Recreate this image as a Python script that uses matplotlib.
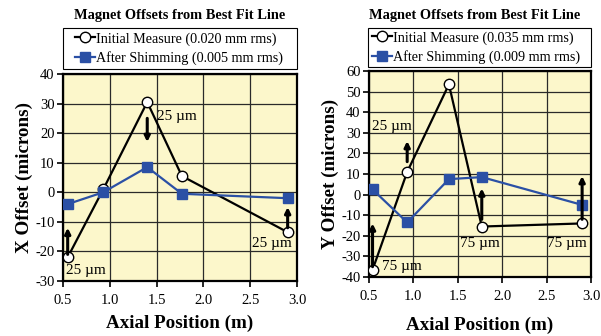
import numpy as np
import matplotlib.pyplot as plt
import matplotlib.patches as patches

plt.rcParams['font.family'] = ['Liberation Serif', 'DejaVu Serif']
plt.rcParams['axes.unicode_minus'] = False

# axial positions (m)
pos_x = [0.55, 0.93, 1.40, 1.77, 2.90]
pos_y = [0.54, 0.93, 1.40, 1.77, 2.90]

# X offsets (microns)
x_initial = [-22.0, 1.0, 30.5, 5.5, -13.5]
x_after = [-4.0, 0.0, 8.5, -0.5, -2.0]

# Y offsets (microns)
y_initial = [-36.5, 11.0, 53.5, -15.5, -14.0]
y_after = [2.5, -13.5, 7.5, 8.5, -5.0]

x_legend = ['Initial Measure (0.020 mm rms)', 'After Shimming (0.005 mm rms)']
y_legend = ['Initial Measure (0.035 mm rms)', 'After Shimming (0.009 mm rms)']

# shim arrows: (x, start, end)
x_arrows = [(0.55, -21, -12), (1.40, 25, 17), (2.90, -12, -5)]
y_arrows = [(0.54, -35, -14), (0.93, 16, 26), (1.77, -12, 3), (2.90, -12, 9)]

# annotation labels: (x, y, text)
x_notes = [(1.50, 25.5, '25 µm'), (0.53, -26.3, '25 µm'), (2.52, -17.2, '25 µm')]
y_notes = [(0.53, 33.3, '25 µm'), (0.65, -34.7, '75 µm'), (1.52, -23.5, '75 µm'), (2.50, -23.5, '75 µm')]

blue = '#2B50A5'
bg = '#FCF7CB'
W, H = 601, 336

fig = plt.figure(figsize=(6.01, 3.36), dpi=100)


def px_box(x0, y0, x1, y1):
    # pixel box (top-left origin) -> figure fraction rect
    return [x0 / W, 1 - y1 / H, (x1 - x0) / W, (y1 - y0) / H]


ax1 = fig.add_axes(px_box(63, 74, 297, 281))
ax2 = fig.add_axes(px_box(369, 71, 591, 277))


def draw(ax, pos, init, after, legend, arrows, notes, ylim, yticks, ylabel,
         xpad, box, title_x, leg_cx):
    ax.set_facecolor(bg)
    l1, = ax.plot(pos, init, '-o', color='black', lw=1.6, ms=7.5,
                  mfc='white', mec='black', mew=1.0, zorder=3)
    l2, = ax.plot(pos, after, '-s', color=blue, lw=1.6, ms=6.5,
                  mfc=blue, mec=blue, zorder=4)
    for xa, y0, y1 in arrows:
        ax.annotate('', xy=(xa, y1), xytext=(xa, y0),
                    arrowprops=dict(arrowstyle='-|>', color='black', lw=2.2,
                                    mutation_scale=8, shrinkA=0, shrinkB=0),
                    zorder=5)
    for xn, yn, t in notes:
        ax.text(xn, yn, t, fontsize=11, va='center', ha='left', zorder=6)
    ax.set_xlim(0.5, 3.0)
    ax.set_ylim(*ylim)
    ax.set_xticks(np.arange(0.5, 3.01, 0.5))
    ax.set_xticklabels(['%.1f' % v for v in np.arange(0.5, 3.01, 0.5)])
    ax.set_yticks(yticks)
    ax.grid(True, color='#2a2a2a', lw=0.9)
    ax.set_axisbelow(True)
    for s in ax.spines.values():
        s.set_linewidth(1.6)
    ax.tick_params(labelsize=10.5, length=4, width=1.2, pad=2)
    ax.tick_params(axis='x', pad=xpad[0])
    ax.set_xlabel('Axial Position (m)', fontsize=13.7, fontweight='bold',
                  labelpad=xpad[1])
    ax.set_ylabel(ylabel, fontsize=13.7, fontweight='bold', labelpad=2)

    # legend box above the plot
    fig.patches.append(patches.Rectangle(
        (box[0] / W, 1 - box[3] / H), (box[2] - box[0]) / W,
        (box[3] - box[1]) / H, transform=fig.transFigure,
        fill=True, facecolor='white', edgecolor='black', lw=0.8))
    fig.legend([l1, l2], legend, loc='center',
               bbox_to_anchor=(leg_cx / W, 1 - (box[1] + box[3]) / 2 / H),
               fontsize=10.2, handlelength=1.4, handletextpad=0.1,
               borderpad=0.0, labelspacing=0.38, frameon=False)
    fig.text(title_x / W, 1 - 15 / H, 'Magnet Offsets from Best Fit Line',
             fontsize=10.4, fontweight='bold', ha='center', va='center')


draw(ax1, pos_x, x_initial, x_after, x_legend, x_arrows, x_notes,
     (-30, 40), range(-30, 41, 10), 'X Offset (microns)',
     (5, 6), (63, 28, 297, 69), 180, 179)
draw(ax2, pos_y, y_initial, y_after, y_legend, y_arrows, y_notes,
     (-40, 60), range(-40, 61, 10), 'Y Offset (microns)',
     (5, 10), (368, 28, 591, 67), 475, 476)

fig.savefig('out.png', dpi=100)
